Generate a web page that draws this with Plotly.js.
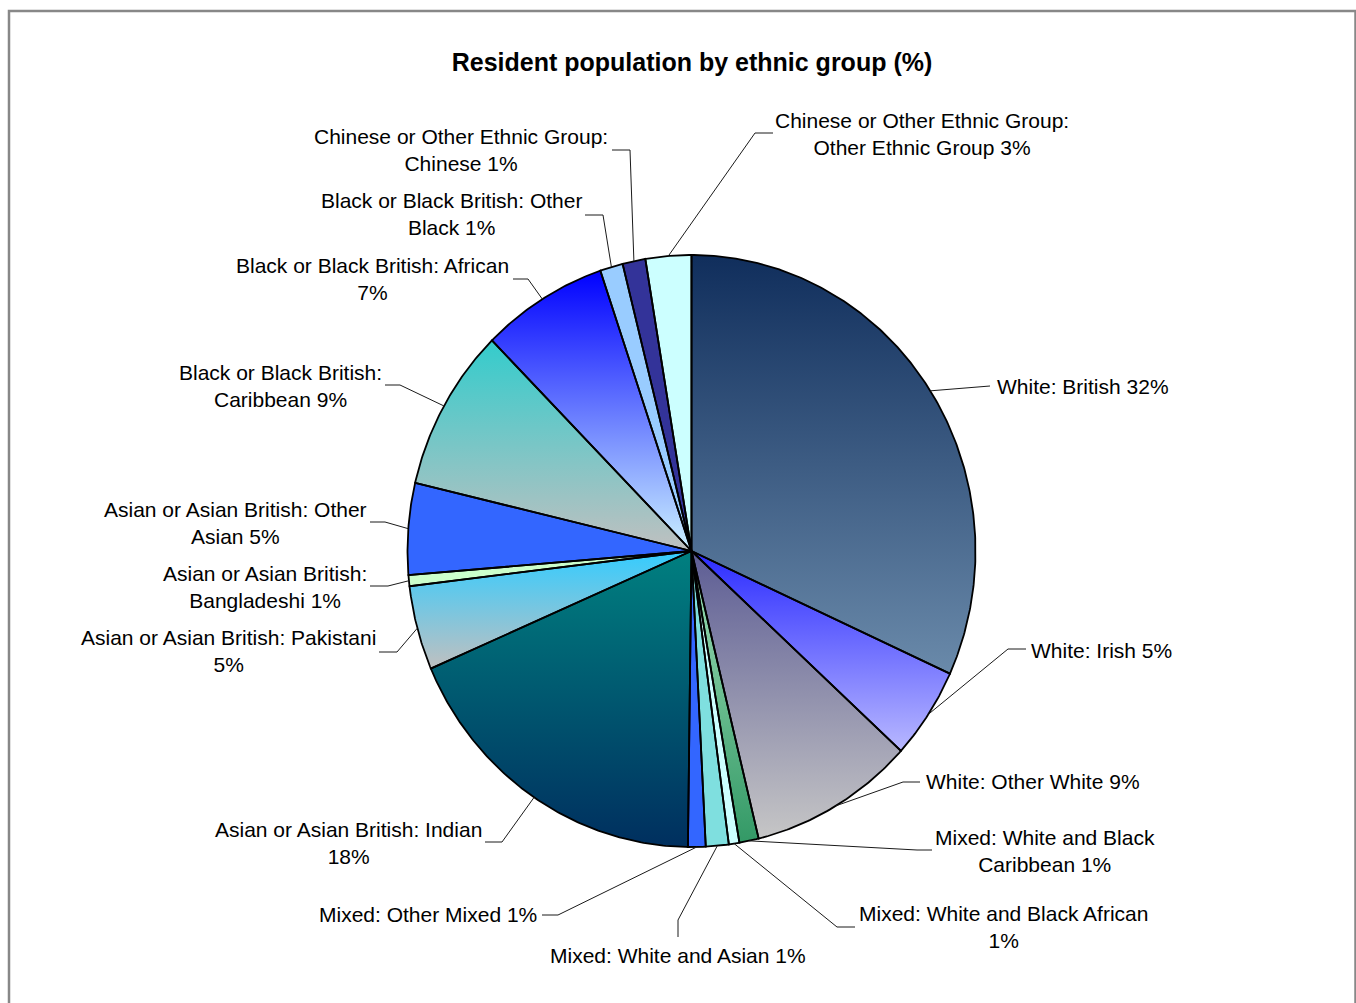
<!DOCTYPE html>
<html>
<head>
<meta charset="utf-8">
<script src="https://cdn.plot.ly/plotly-3.0.1.min.js"></script>
<style>
html,body{margin:0;padding:0;background:#ffffff;}
#chart{width:1356px;height:1003px;}
</style>
</head>
<body>
<div id="chart"></div>
<script>
// ---------- DATA ----------
const chartTitle = 'Resident population by ethnic group (%)';
const categories = [
  'White: British',
  'White: Irish',
  'White: Other White',
  'Mixed: White and Black Caribbean',
  'Mixed: White and Black African',
  'Mixed: White and Asian',
  'Mixed: Other Mixed',
  'Asian or Asian British: Indian',
  'Asian or Asian British: Pakistani',
  'Asian or Asian British: Bangladeshi',
  'Asian or Asian British: Other Asian',
  'Black or Black British: Caribbean',
  'Black or Black British: African',
  'Black or Black British: Other Black',
  'Chinese or Other Ethnic Group: Chinese',
  'Chinese or Other Ethnic Group: Other Ethnic Group'
];
const values = [31.8, 5.0, 9.4, 1.1, 0.6, 1.3, 1.0, 18.3, 4.6, 0.6, 5.0, 8.9, 7.2, 1.3, 1.3, 2.6];

// ---------- STYLE / LAYOUT ----------
const topColors = ['#102e5c','#2b2bff','#5c5c94','#a0e0b8','#ccffff','#7fdfdf','#3366ff','#008080',
                   '#33ccff','#ccffcc','#3366ff','#33cccc','#0000ff','#99ccff','#333399','#ccffff'];
const bottomColors = ['#6a8aaa','#b8b8ff','#c6c6c6','#339966','#ccffff','#7fdfdf','#3366ff','#002f5f',
                      '#c0c0c0','#ccffcc','#3366ff','#c0c0c0','#ccf2ff','#99ccff','#333399','#ccffff'];
// words on the first line of each label (0 = single line)
const firstLineWords = [0,0,0,4,5,0,0,5,5,4,5,4,5,5,5,5];
// label anchor position [x, y, xanchor] in pixel space
const labelPos = [
  [995,386,'left'],[1029,650,'left'],[924,781,'left'],[1045,851,'center'],
  [1003,927,'center'],[678,955,'center'],[539,914,'right'],[348,842.5,'center'],
  [228,651,'center'],[265,586.5,'center'],[235,522.5,'center'],[280,385.5,'center'],
  [372,278.5,'center'],[451,214,'center'],[461,149.5,'center'],[922,133.5,'center']
];
const leaderElbow = [
  [990,386],[1008,649],[903,782],[917,850],[837,927],[678,920],[558,915],[502,842],
  [397,652],[388,586],[385,522],[400,385],[528,279],[603,215],[630,150],[755,133]
];
const leaderEnd = [
  [990,386],[1026,649],[920,782],[932,850],[855,927],[678,937],[542,915],[485,842],
  [379,652],[370,586],[370,522],[385,385],[513,279],[585,215],[612,150],[773,133]
];
const CX = 691.5, CY = 551, RX = 284, RY = 296;
const FONT = 'Liberation Sans, Arial, sans-serif';

// ---------- BUILD ----------
const total = values.reduce((a,b)=>a+b,0);
function pt(theta){ return [CX + RX*Math.sin(theta), CY - RY*Math.cos(theta)]; }

const fillTraces = [], outlineTraces = [], leaderTraces = [], annotations = [];
let cum = 0;
values.forEach((v,i)=>{
  const a0 = cum/total*2*Math.PI;
  cum += v;
  const a1 = cum/total*2*Math.PI;
  const n = Math.max(4, Math.ceil((a1-a0)/(Math.PI/360)));
  const xs=[CX], ys=[CY];
  for(let k=0;k<=n;k++){
    const p = pt(a0+(a1-a0)*k/n);
    xs.push(p[0]); ys.push(p[1]);
  }
  xs.push(CX); ys.push(CY);
  const yMin = Math.min(...ys), yMax = Math.max(...ys);
  fillTraces.push({
    type:'scatter', mode:'lines', x:xs, y:ys, fill:'toself',
    fillcolor: topColors[i],
    fillgradient:{type:'vertical', start:yMin, stop:yMax,
                  colorscale:[[0, topColors[i]],[1, bottomColors[i]]]},
    line:{width:0, color:'rgba(0,0,0,0)'},
    hoverinfo:'text', text: categories[i], showlegend:false
  });
  outlineTraces.push({
    type:'scatter', mode:'lines', x:xs, y:ys,
    line:{width:1.8, color:'#000000'}, hoverinfo:'skip', showlegend:false
  });
  // leader line from the slice edge at mid-angle
  const s = pt((a0+a1)/2);
  leaderTraces.push({
    type:'scatter', mode:'lines',
    x:[s[0], leaderElbow[i][0], leaderEnd[i][0]],
    y:[s[1], leaderElbow[i][1], leaderEnd[i][1]],
    line:{width:1, color:'#1a1a1a'}, hoverinfo:'skip', showlegend:false
  });
  const pct = Math.round(v/total*100) + '%';
  const words = (categories[i] + ' ' + pct).split(' ');
  const k = firstLineWords[i];
  const txt = k>0 ? words.slice(0,k).join(' ') + '<br>' + words.slice(k).join(' ') : words.join(' ');
  annotations.push({
    x: labelPos[i][0], y: labelPos[i][1], xref:'x', yref:'y',
    xanchor: labelPos[i][2], yanchor:'middle', align:'center',
    text: txt, showarrow:false,
    font:{family:FONT, size:21, color:'#000000'}
  });
});

const layout = {
  width:1356, height:1003,
  margin:{l:0,r:0,t:0,b:0,pad:0},
  paper_bgcolor:'#ffffff', plot_bgcolor:'#ffffff',
  title:{text:'<b>'+chartTitle+'</b>', font:{family:FONT, size:25, color:'#000000'},
         x:692/1356, xanchor:'center', xref:'paper', y:1-62/1003, yanchor:'middle', yref:'container'},
  xaxis:{range:[0,1356], visible:false, fixedrange:true},
  yaxis:{range:[1003,0], visible:false, fixedrange:true},
  showlegend:false,
  annotations: annotations,
  shapes:[{type:'rect', xref:'x', yref:'y', x0:9, y0:11, x1:1355.5, y1:1030,
           line:{color:'#888888', width:2.5}, fillcolor:'rgba(0,0,0,0)', layer:'below'}]
};

Plotly.newPlot('chart', fillTraces.concat(outlineTraces, leaderTraces), layout,
  {displayModeBar:false, staticPlot:true});
</script>
</body>
</html>
